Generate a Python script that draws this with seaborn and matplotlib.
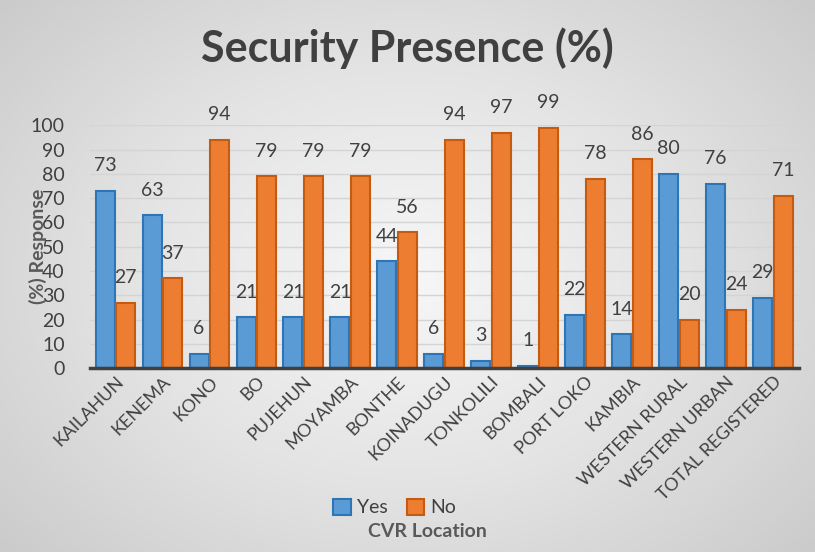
import numpy as np
import pandas as pd
import matplotlib
matplotlib.use("Agg")
import matplotlib.pyplot as plt
from matplotlib.colors import LinearSegmentedColormap
import seaborn as sns

locations = ["KAILAHUN", "KENEMA", "KONO", "BO", "PUJEHUN", "MOYAMBA", "BONTHE",
             "KOINADUGU", "TONKOLILI", "BOMBALI", "PORT LOKO", "KAMBIA",
             "WESTERN RURAL", "WESTERN URBAN", "TOTAL REGISTERED"]
yes_vals = [73, 63, 6, 21, 21, 21, 44, 6, 3, 1, 22, 14, 80, 76, 29]
no_vals = [27, 37, 94, 79, 79, 79, 56, 94, 97, 99, 78, 86, 20, 24, 71]

df = pd.DataFrame({
    "location": locations * 2,
    "value": yes_vals + no_vals,
    "answer": ["Yes"] * len(locations) + ["No"] * len(locations),
})

sns.set_style("white")
plt.rcParams["font.family"] = ["Lato", "DejaVu Sans"]

fig = plt.figure(figsize=(8.15, 5.52), dpi=100)

# light grey radial background
bg = fig.add_axes([0, 0, 1, 1], zorder=-10)
yy, xx = np.mgrid[-1:1:300j, -1:1:400j]
r = np.sqrt(xx ** 2 + (yy * 0.9) ** 2)
grey = LinearSegmentedColormap.from_list("g", ["#f7f7f7", "#e3e3e3", "#c9c9c9"])
bg.imshow(r, cmap=grey, vmin=0, vmax=1.4, aspect="auto", extent=[0, 1, 0, 1])
bg.axis("off")

ax = fig.add_axes([0.11, 0.333, 0.87, 0.44])
ax.patch.set_alpha(0)

sns.barplot(data=df, x="location", y="value", hue="answer",
            palette={"Yes": "#5B9BD5", "No": "#ED7D31"},
            width=0.88, gap=0.08, ax=ax, saturation=1)

edge = {"Yes": "#2E75B6", "No": "#C55A11"}
for cont, key in zip(ax.containers, ["Yes", "No"]):
    for b in cont:
        b.set_edgecolor(edge[key])
        b.set_linewidth(1.5)
    ax.bar_label(cont, fmt="%d", padding=12, fontsize=14, color="#404040")

ax.set_ylim(0, 100)
ax.set_xlim(-0.55, len(locations) - 0.45)
ax.set_yticks(range(0, 101, 10))
ax.yaxis.grid(True, color="#d4d4d4", linewidth=1)
ax.set_axisbelow(True)
for s in ["top", "right", "left"]:
    ax.spines[s].set_visible(False)
ax.spines["bottom"].set_color("#404040")
ax.spines["bottom"].set_linewidth(2.5)
ax.tick_params(axis="y", labelsize=14, labelcolor="#404040", length=0, pad=18)
ax.tick_params(axis="x", labelsize=13, labelcolor="#404040", length=0, pad=4)
plt.setp(ax.get_xticklabels(), rotation=45, ha="right", rotation_mode="anchor")

ax.set_xlabel("")
ax.set_ylabel("(%) Response", fontsize=14, fontweight="bold", color="#595959", labelpad=-12)

leg = ax.legend(loc="upper center", bbox_to_anchor=(0.43, -0.505), ncol=2, frameon=False,
                fontsize=14, handlelength=0.9, handleheight=0.9, columnspacing=1.0,
                handletextpad=0.3, labelcolor="#404040", borderaxespad=0)
for h, key in zip(leg.legend_handles, ["Yes", "No"]):
    h.set_edgecolor(edge[key])
    h.set_linewidth(1.5)
fig.text(0.525, 0.028, "CVR Location", ha="center", fontsize=14, fontweight="bold", color="#595959")

fig.suptitle("Security Presence (%)", y=0.95, fontsize=31, fontweight="bold", color="#404040")

fig.savefig("out.png", dpi=100)
